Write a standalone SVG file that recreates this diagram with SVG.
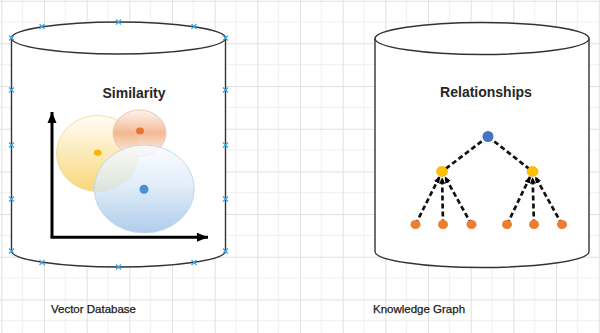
<svg xmlns="http://www.w3.org/2000/svg" width="600" height="333" viewBox="0 0 600 333">
<style>
.cyl{fill:#fff;stroke:#333;stroke-width:1.4}
.title{font-family:"Liberation Sans",Arial,sans-serif;font-weight:bold;font-size:14px;fill:#262626;text-anchor:middle}
.label{font-family:"Liberation Sans",Arial,sans-serif;font-size:11.5px;fill:#1a1a1a;text-anchor:middle;stroke:#1a1a1a;stroke-width:0.25}
.axis{stroke:#000;stroke-width:3;fill:none}
.edge{stroke:#111;stroke-width:2.7;stroke-dasharray:5 3;fill:none}
.xm{stroke:#3aa6e8;stroke-width:1.2;fill:none}
</style>
<defs>
<pattern id="grid" patternUnits="userSpaceOnUse" width="42.67" height="42.67" x="1.3" y="0.7">
<path d="M21.33,0V42.67M0,21.33H42.67" stroke="#f0f0f0" stroke-width="1"/>
<path d="M0.5,0V42.67M0,0.5H42.67" stroke="#e0e0e0" stroke-width="1"/>
</pattern>
<marker id="axArrow" markerUnits="userSpaceOnUse" markerWidth="12" markerHeight="12" viewBox="0 0 12 12" refX="11" refY="6" orient="auto">
<path d="M0,1.5L11,6L0,10.5Z" fill="#000"/>
</marker>
<marker id="edArrow" markerUnits="userSpaceOnUse" markerWidth="7" markerHeight="7" viewBox="0 0 7 7" refX="6.5" refY="3.5" orient="auto">
<path d="M0,0.5L6.5,3.5L0,6.5Z" fill="#000"/>
</marker>
<linearGradient id="gY" x1="0" y1="0" x2="0" y2="1">
<stop offset="0" stop-color="#fffdf5"/>
<stop offset="0.45" stop-color="#fbe8b4"/>
<stop offset="1" stop-color="#f8d15f"/>
</linearGradient>
<linearGradient id="gO" x1="0" y1="0" x2="0" y2="1">
<stop offset="0" stop-color="#fdf0e8"/>
<stop offset="0.5" stop-color="#f0a97f"/>
<stop offset="1" stop-color="#fdf3ec"/>
</linearGradient>
<linearGradient id="gB" x1="0" y1="0" x2="0" y2="1">
<stop offset="0" stop-color="#fbfdff"/>
<stop offset="0.45" stop-color="#dae9f7"/>
<stop offset="1" stop-color="#9bc1e6"/>
</linearGradient>
<path id="x" d="M-2.5,-2.5L2.5,2.5M-2.5,2.5L2.5,-2.5" class="xm"/>
</defs>
<rect width="600" height="333" fill="#fff"/>
<rect width="600" height="333" fill="url(#grid)"/>

<g id="vector-db">
<path class="cyl" d="M11.5,38V251A107,16 0 0 0 225.5,251V38Z"/>
<ellipse class="cyl" cx="118.5" cy="38" rx="107" ry="16"/>
<text class="title" x="134" y="98">Similarity</text>
<ellipse cx="97.5" cy="153.5" rx="41" ry="38" fill="url(#gY)" fill-opacity="0.85" stroke="#f3dfa6" stroke-width="1"/>
<ellipse cx="139.5" cy="133" rx="26.5" ry="23" fill="url(#gO)" fill-opacity="0.8" stroke="#e9c9b8" stroke-width="1"/>
<ellipse cx="144.3" cy="189" rx="50" ry="44" fill="url(#gB)" fill-opacity="0.8" stroke="#c5d8ea" stroke-width="1"/>
<ellipse cx="97.7" cy="152.8" rx="4" ry="3" fill="#f5b800"/>
<ellipse cx="140" cy="131" rx="4" ry="3.6" fill="#ea7331"/>
<ellipse cx="144" cy="189.3" rx="4.5" ry="4.5" fill="#4a8fd4"/>
<path class="axis" d="M52,237.3V112" marker-end="url(#axArrow)"/>
<path class="axis" d="M50.5,237.3H208" marker-end="url(#axArrow)"/>
<g>
<use href="#x" x="11.5" y="38"/><use href="#x" x="42" y="26.5"/><use href="#x" x="118.5" y="22"/><use href="#x" x="194" y="26.5"/><use href="#x" x="225.5" y="38"/>
<use href="#x" x="11.5" y="90"/><use href="#x" x="225.5" y="90"/><use href="#x" x="11.5" y="145"/><use href="#x" x="225.5" y="145"/>
<use href="#x" x="11.5" y="199"/><use href="#x" x="225.5" y="199"/><use href="#x" x="11.5" y="251"/><use href="#x" x="225.5" y="251"/>
<use href="#x" x="42" y="262.5"/><use href="#x" x="118.5" y="267"/><use href="#x" x="194" y="262.5"/>
</g>
</g>

<g id="knowledge-graph">
<path class="cyl" d="M375,38.5V251.5A107,16 0 0 0 589,251.5V38.5Z"/>
<ellipse class="cyl" cx="482" cy="38.5" rx="107" ry="16"/>
<text class="title" x="486" y="97">Relationships</text>
</g>

<g id="connectors">
<path class="edge" d="M488,136.5L442,171.5"/>
<path class="edge" d="M488,136.5L532.5,171.5"/>
<path class="edge" d="M415.5,224.5L439.6,176.6" marker-end="url(#edArrow)"/>
<path class="edge" d="M443,224.5L442.1,177.2" marker-end="url(#edArrow)"/>
<path class="edge" d="M471.5,224.5L444.8,176.5" marker-end="url(#edArrow)"/>
<path class="edge" d="M507,224.5L530.2,176.6" marker-end="url(#edArrow)"/>
<path class="edge" d="M534,224.5L532.6,177.2" marker-end="url(#edArrow)"/>
<path class="edge" d="M562,224.5L535.2,176.5" marker-end="url(#edArrow)"/>
</g>

<g id="node-root"><circle cx="488" cy="136.5" r="5.5" fill="#4472c4"/></g>
<g id="node-mid-left"><ellipse cx="442" cy="171.5" rx="5.5" ry="5" fill="#ffc000" stroke="#e6a800" stroke-width="0.6"/></g>
<g id="node-mid-right"><ellipse cx="532.5" cy="171.5" rx="5.5" ry="5" fill="#ffc000" stroke="#e6a800" stroke-width="0.6"/></g>
<g id="leaf-1"><ellipse cx="415.5" cy="224.5" rx="5" ry="4.6" fill="#ed7d31"/></g>
<g id="leaf-2"><ellipse cx="443" cy="224.5" rx="5" ry="4.6" fill="#ed7d31"/></g>
<g id="leaf-3"><ellipse cx="471.5" cy="224.5" rx="5" ry="4.6" fill="#ed7d31"/></g>
<g id="leaf-4"><ellipse cx="507" cy="224.5" rx="5" ry="4.6" fill="#ed7d31"/></g>
<g id="leaf-5"><ellipse cx="534" cy="224.5" rx="5" ry="4.6" fill="#ed7d31"/></g>
<g id="leaf-6"><ellipse cx="562" cy="224.5" rx="5" ry="4.6" fill="#ed7d31"/></g>

<g id="label-vector"><text class="label" x="93.5" y="313">Vector Database</text></g>
<g id="label-graph"><text class="label" x="419" y="313">Knowledge Graph</text></g>
</svg>
